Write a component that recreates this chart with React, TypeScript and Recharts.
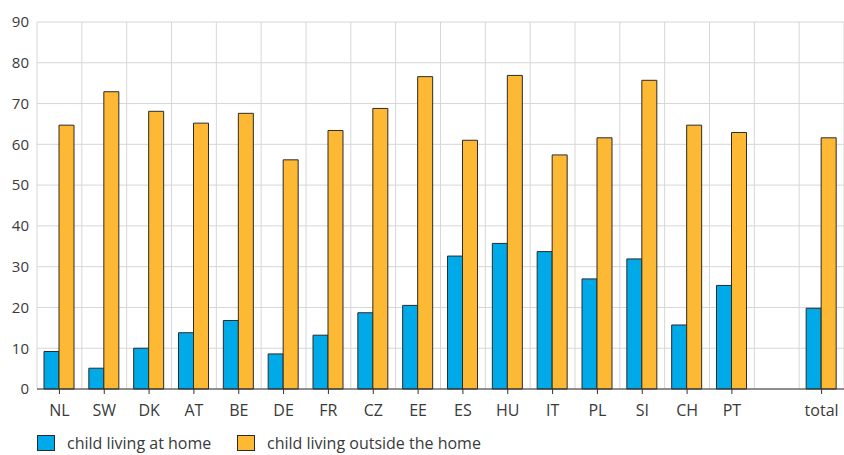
import { BarChart, Bar, XAxis, YAxis, CartesianGrid } from 'recharts'

const countries = ['NL', 'SW', 'DK', 'AT', 'BE', 'DE', 'FR', 'CZ', 'EE', 'ES', 'HU', 'IT', 'PL', 'SI', 'CH', 'PT', '', 'total']
const atHome = [9.2, 5.1, 10.0, 13.8, 16.8, 8.6, 13.2, 18.7, 20.5, 32.6, 35.7, 33.7, 27.0, 31.9, 15.7, 25.4, null, 19.8]
const outsideHome = [64.7, 72.9, 68.1, 65.2, 67.6, 56.2, 63.4, 68.8, 76.6, 61.0, 76.9, 57.4, 61.6, 75.7, 64.7, 62.9, null, 61.6]
const yTicks = [0, 10, 20, 30, 40, 50, 60, 70, 80, 90]

const BLUE = '#00aae8'
const ORANGE = '#fdb933'
const TEXT = '#3a3a3a'
const FONT = '"Open Sans", sans-serif'

const data = countries.map((name, i) => ({
  name,
  home: atHome[i],
  outside: outsideHome[i],
}))

// vertical grid lines sit between categories, not on the ticks
const bandLines = ({ offset }: any) => {
  const n = countries.length
  const step = offset.width / n
  return Array.from({ length: n + 1 }, (_, i) => offset.left + i * step)
}

// tick mark + label, skipped for the empty spacer category
function CountryTick({ x, y, payload }: any) {
  if (!payload.value) return null
  return (
    <g>
      <line x1={x} x2={x} y1={y} y2={y + 5} stroke="#333" />
      <text x={x} y={y + 27} textAnchor="middle" fill={TEXT} fontSize={16} fontFamily={FONT}>
        {payload.value}
      </text>
    </g>
  )
}

function LegendItem({ color, label, left }: { color: string; label: string; left: number }) {
  return (
    <div style={{ position: 'absolute', left, top: 0, height: 24, display: 'flex', alignItems: 'center', whiteSpace: 'nowrap' }}>
      <span
        style={{
          display: 'inline-block',
          width: 16,
          height: 14,
          background: color,
          border: '1px solid #2b2b2b',
          marginRight: 12,
        }}
      />
      <span style={{ fontSize: 16, lineHeight: '24px', color: TEXT }}>{label}</span>
    </div>
  )
}

export default function App() {
  return (
    <div style={{ position: 'absolute', left: 0, top: 0, width: 844, height: 455, background: '#fff', fontFamily: FONT }}>
      <BarChart
        width={844}
        height={425}
        data={data}
        margin={{ top: 22, right: 0, bottom: 0, left: 0 }}
        barGap={0}
      >
        <CartesianGrid stroke="#d6d6d6" verticalCoordinatesGenerator={bandLines} />
        <XAxis
          dataKey="name"
          height={36}
          axisLine={{ stroke: '#333' }}
          tickLine={false}
          tickSize={0}
          tickMargin={0}
          interval={0}
          tick={<CountryTick />}
        />
        <YAxis
          width={37}
          domain={[0, 90]}
          ticks={yTicks}
          axisLine={false}
          tickLine={false}
          tick={{ fill: TEXT, fontSize: 15, fontFamily: FONT }}
        />
        <Bar dataKey="home" fill={BLUE} stroke="#2b2b2b" strokeWidth={1} barSize={15} isAnimationActive={false} />
        <Bar dataKey="outside" fill={ORANGE} stroke="#2b2b2b" strokeWidth={1} barSize={15} isAnimationActive={false} />
      </BarChart>
      <div style={{ position: 'absolute', left: 0, top: 431, width: 844, height: 24 }}>
        <LegendItem left={37} color={BLUE} label="child living at home" />
        <LegendItem left={237} color={ORANGE} label="child living outside the home" />
      </div>
    </div>
  )
}
